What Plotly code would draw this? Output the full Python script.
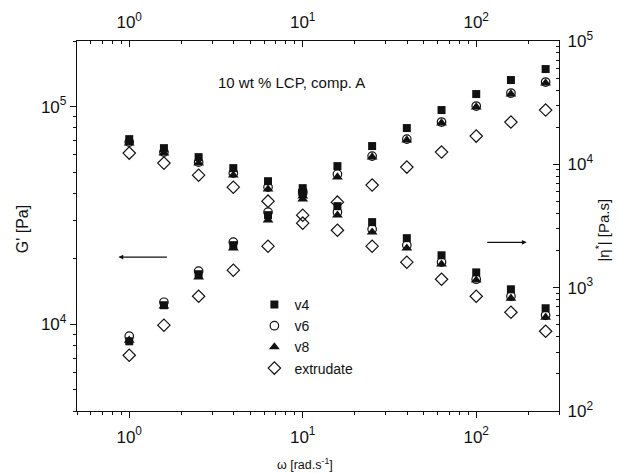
import plotly.graph_objects as go

# angular frequency [rad/s]
omega = [1.0, 1.585, 2.512, 3.981, 6.31, 10.0, 15.85, 25.12, 39.81, 63.1, 100.0, 158.5, 251.2]

# storage modulus G' [Pa] (left axis)
G_v4 = [8360, 12240, 16990, 23100, 31720, 40020, 53280, 65860, 79660, 96370, 114140, 132360, 148670]
G_v6 = [8820, 12630, 17540, 23840, 32740, 40880, 48930, 59220, 70880, 84890, 100540, 115350, 129580]
G_v8 = [8450, 12110, 16460, 22370, 30090, 37570, 47430, 58600, 70130, 83990, 99480, 114140, 128210]
G_ex = [7210, 9910, 13460, 17730, 22850, 29150, 36400, 43590, 52720, 61790, 73170, 84890, 96370]

# complex viscosity |eta*| [Pa.s] (right axis)
eta_v4 = [16010, 13530, 11440, 9320, 7300, 6410, 4580, 3400, 2520, 1830, 1330, 970, 681]
eta_v6 = [15140, 12560, 10420, 8480, 6530, 5840, 4090, 2980, 2210, 1610, 1170, 852, 597]
eta_v8 = [14860, 12330, 10230, 8170, 6290, 5520, 3870, 2820, 2090, 1550, 1150, 820, 575]
eta_ex = [12330, 10230, 8170, 6530, 5030, 3870, 2920, 2170, 1610, 1170, 852, 632, 443]

series_names = ["v4", "v6", "v8", "extrudate"]
x_ticks = [1, 10, 100]
x_ticktext = ["10<sup>0</sup>", "10<sup>1</sup>", "10<sup>2</sup>"]
yl_ticks = [1e4, 1e5]
yl_ticktext = ["10<sup>4</sup>", "10<sup>5</sup>"]
yr_ticks = [1e2, 1e3, 1e4, 1e5]
yr_ticktext = ["10<sup>2</sup>", "10<sup>3</sup>", "10<sup>4</sup>", "10<sup>5</sup>"]

INK = "#111111"
FONT = "Liberation Sans, Arial, sans-serif"

styles = [
    dict(symbol="square", size=8, color=INK, line=dict(width=0)),
    dict(symbol="circle-open", size=8.5, color=INK, line=dict(width=1.2, color=INK)),
    dict(symbol="triangle-up", size=9.5, color=INK, line=dict(width=0)),
    dict(symbol="diamond-open", size=9.5, color=INK, line=dict(width=1.2, color=INK)),
]

fig = go.Figure()
G_sets = [G_v4, G_v6, G_v8, G_ex]
eta_sets = [eta_v4, eta_v6, eta_v8, eta_ex]
for name, g, st in zip(series_names, G_sets, styles):
    fig.add_trace(go.Scatter(x=omega, y=g, mode="markers", name=name, marker=st,
                             legendgroup=name, showlegend=True, xaxis="x", yaxis="y"))
for name, e, st in zip(series_names, eta_sets, styles):
    fig.add_trace(go.Scatter(x=omega, y=e, mode="markers", name=name, marker=st,
                             legendgroup=name, showlegend=False, xaxis="x2", yaxis="y2"))

# empty helper traces so that the minor-tick overlay axes are drawn
for xa, ya in [("x3", "y"), ("x4", "y"), ("x", "y3"), ("x", "y4")]:
    fig.add_trace(go.Scatter(x=[None], y=[None], mode="markers", showlegend=False,
                             hoverinfo="skip", xaxis=xa, yaxis=ya))

def minor_vals(lo_exp, hi_exp):
    return [m * 10 ** k for k in range(lo_exp, hi_exp + 1) for m in range(2, 10)]

xr = [-0.30103, 2.47712]
ylr = [3.60206, 5.30103]
yrr = [2, 5]
base = dict(type="log", showgrid=False, zeroline=False, automargin=False,
            tickcolor=INK, tickfont=dict(family=FONT, size=17, color=INK))
major = dict(**base, showline=True, linecolor=INK, linewidth=1.3, tickwidth=1.2, ticklen=6,
             tickmode="array")
minor_ax = dict(**base, showline=False, tickwidth=1, ticklen=3, tickmode="array",
                showticklabels=False)

fig.update_layout(
    width=620, height=473,
    margin=dict(l=77, r=61, t=41, b=62),
    paper_bgcolor="white", plot_bgcolor="white",
    font=dict(family=FONT, color=INK),
    xaxis=dict(**major, range=xr, tickvals=x_ticks, ticktext=x_ticktext, ticks="outside",
               ticklabelstandoff=4),
    xaxis2=dict(**major, range=xr, overlaying="x", side="top", anchor="y2",
                tickvals=x_ticks, ticktext=x_ticktext, ticks="inside", ticklabelstandoff=5),
    xaxis3=dict(**minor_ax, range=xr, overlaying="x", side="bottom", anchor="y",
                tickvals=minor_vals(-1, 2), ticks="outside"),
    xaxis4=dict(**minor_ax, range=xr, overlaying="x", side="top", anchor="y",
                tickvals=minor_vals(-1, 2), ticks="inside"),
    yaxis=dict(**major, range=ylr, tickvals=yl_ticks, ticktext=yl_ticktext, ticks="outside"),
    yaxis2=dict(**major, range=yrr, overlaying="y", side="right", anchor="x2",
                tickvals=yr_ticks, ticktext=yr_ticktext, ticks="inside", ticklabelstandoff=4),
    yaxis3=dict(**minor_ax, range=ylr, overlaying="y", side="left", anchor="x",
                tickvals=minor_vals(3, 5), ticks="outside"),
    yaxis4=dict(**minor_ax, range=yrr, overlaying="y", side="right", anchor="x",
                tickvals=minor_vals(2, 4), ticks="inside"),
    legend=dict(x=0.368, y=0.33, xanchor="left", yanchor="top", bgcolor="rgba(0,0,0,0)",
                font=dict(family=FONT, size=14, color=INK), tracegroupgap=0, itemwidth=30),
    showlegend=True,
)

# axis titles
fig.add_annotation(text="G' [Pa]", xref="paper", yref="paper", x=-0.113, y=0.49,
                   textangle=-90, showarrow=False, xanchor="center", yanchor="middle",
                   font=dict(family=FONT, size=16, color=INK))
fig.add_annotation(text="|η<sup>*</sup>| [Pa.s]", xref="paper", yref="paper", x=1.091, y=0.49,
                   textangle=-90, showarrow=False, xanchor="center", yanchor="middle",
                   font=dict(family=FONT, size=15, color=INK))
fig.add_annotation(text="ω [rad.s<sup>-1</sup>]", xref="paper", yref="paper", x=0.472, y=-0.142,
                   showarrow=False, xanchor="center", yanchor="middle",
                   font=dict(family=FONT, size=12.5, color=INK))

fig.add_annotation(text="10 wt % LCP, comp. A", xref="paper", yref="paper",
                   x=0.446, y=0.888, showarrow=False, xanchor="center", yanchor="middle",
                   font=dict(family=FONT, size=15, color=INK))
# arrows pointing to the corresponding axes
fig.add_annotation(text="", xref="paper", yref="paper", x=0.086, y=0.416,
                   ax=50, ay=0, showarrow=True, arrowhead=2, arrowsize=0.8,
                   arrowwidth=1.2, arrowcolor=INK)
fig.add_annotation(text="", xref="paper", yref="paper", x=0.933, y=0.456,
                   ax=-41, ay=0, showarrow=True, arrowhead=2, arrowsize=0.8,
                   arrowwidth=1.2, arrowcolor=INK)

fig.write_html("out.html", config={"displayModeBar": False},
               post_script="document.body.style.margin='0';")
